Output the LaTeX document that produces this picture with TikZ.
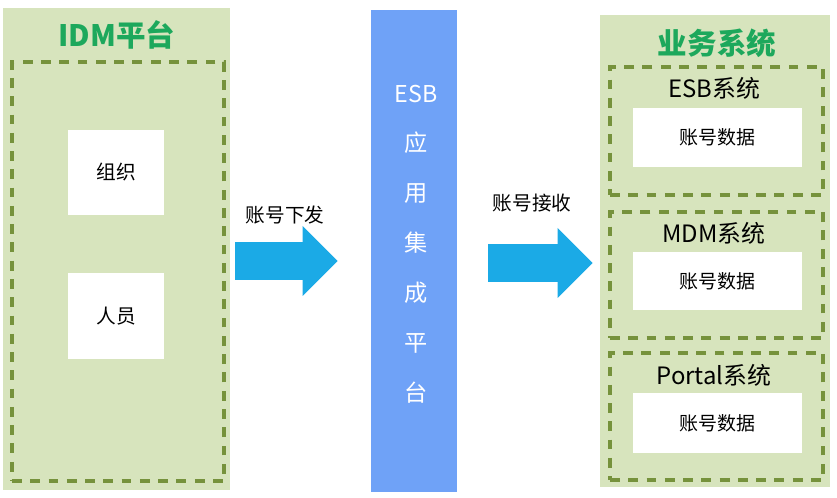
\documentclass[tikz,border=0pt]{standalone}
\usepackage{fontspec}
\setmainfont{Noto Sans CJK SC}
\usetikzlibrary{arrows.meta}
\definecolor{panel-green}{HTML}{D7E4BD}
\definecolor{dash-olive}{HTML}{76923C}
\definecolor{title-green}{HTML}{1DA85C}
\definecolor{esb-blue}{HTML}{6FA2F7}
\definecolor{arrow-cyan}{HTML}{1BAAE6}

\tikzset{
  panel/.style={fill=panel-green, minimum width=5.7cm, minimum height=12cm},
  group/.style={draw=dash-olive, line width=2.6pt, dash pattern=on 7pt off 6pt},
  databox/.style={fill=white, font=\fontsize{13.5pt}{16pt}\selectfont},
  grouptitle/.style={font=\fontsize{17pt}{20pt}\selectfont},
  flow/.style={line width=0.95cm, color=arrow-cyan,
    -{Triangle[length=0.875cm, width=1.75cm, line width=0pt]}},
}

\begin{document}
\begin{tikzpicture}
    % Layout (x, y) in cm, 1px of the 837x498 sheet = 0.025cm
    %   IDM panel at (2.91,-6.23), ESB bar at (10.35,-6.28), business panel at (17.88,-6.28)
    %   flow arrows at y = -6.55 between the three columns
    \useasboundingbox (0,0) rectangle (20.925,-12.45);

    % left: IDM platform
    \node[panel, minimum width=5.675cm, minimum height=12.05cm] (idm) at (2.9125,-6.225) {};
    \node[font=\fontsize{21pt}{24pt}\selectfont\bfseries, text=title-green] (idm-title)
          at (2.925,-0.875) {IDM平台};
    \node[group, minimum width=5.3cm, minimum height=10.475cm] (idm-group) at (2.95,-6.7875) {};
    \node[databox, font=\fontsize{14pt}{16pt}\selectfont, minimum width=2.4cm,
          minimum height=2.125cm] (org) at (2.9,-4.3125) {组织};
    \node[databox, font=\fontsize{14pt}{16pt}\selectfont, minimum width=2.4cm,
          minimum height=2.15cm] (staff) at (2.9,-7.9) {人员};

    % middle: ESB bar
    \node[fill=esb-blue, minimum width=2.15cm, minimum height=12.05cm] (esb) at (10.35,-6.275) {};
    \node[text=white, align=center, font=\fontsize{16.5pt}{35.5pt}\selectfont] (esb-text)
          at (10.4,-6.1) {ESB\\应\\用\\集\\成\\平\\台};

    % right: business systems
    \node[panel, minimum width=5.75cm, minimum height=11.8cm] (biz) at (17.875,-6.275) {};
    \node[font=\fontsize{21pt}{24pt}\selectfont\bfseries, text=title-green] (biz-title)
          at (17.925,-1.075) {业务系统};

    \node[group, minimum width=5.325cm, minimum height=3.2cm] (esb-sys) at (17.9125,-3.275) {};
    \node[grouptitle] (esb-sys-title) at (17.85,-2.2) {ESB系统};
    \node[databox, minimum width=4.225cm, minimum height=1.475cm] (esb-data) at (17.94,-3.4375) {账号数据};

    \node[group, minimum width=5.325cm, minimum height=3.15cm] (mdm-sys) at (17.9125,-6.875) {};
    \node[grouptitle] (mdm-sys-title) at (17.85,-5.825) {MDM系统};
    \node[databox, minimum width=4.225cm, minimum height=1.45cm] (mdm-data) at (17.94,-7.025) {账号数据};

    \node[group, minimum width=5.325cm, minimum height=3.175cm] (portal-sys) at (17.9125,-10.4125) {};
    \node[grouptitle] (portal-sys-title) at (17.85,-9.375) {Portal系统};
    \node[databox, minimum width=4.225cm, minimum height=1.5cm] (portal-data) at (17.94,-10.575) {账号数据};

    % flows
    \draw[flow, shorten <=0.125cm, shorten >=0.825cm]
      ([yshift=-0.3cm]idm.east) -- ([yshift=-0.3cm]idm.east -| esb.west);
    \draw[flow, shorten <=0.775cm, shorten >=0.175cm]
      ([yshift=-0.3cm]esb.east) -- ([yshift=-0.3cm]esb.east -| biz.west);
    \node[font=\fontsize{14pt}{16pt}\selectfont] (send-label) at (7.125,-5.375) {账号下发};
    \node[font=\fontsize{14pt}{16pt}\selectfont] (recv-label) at (13.3,-5.075) {账号接收};
  \end{tikzpicture}
\end{document}
